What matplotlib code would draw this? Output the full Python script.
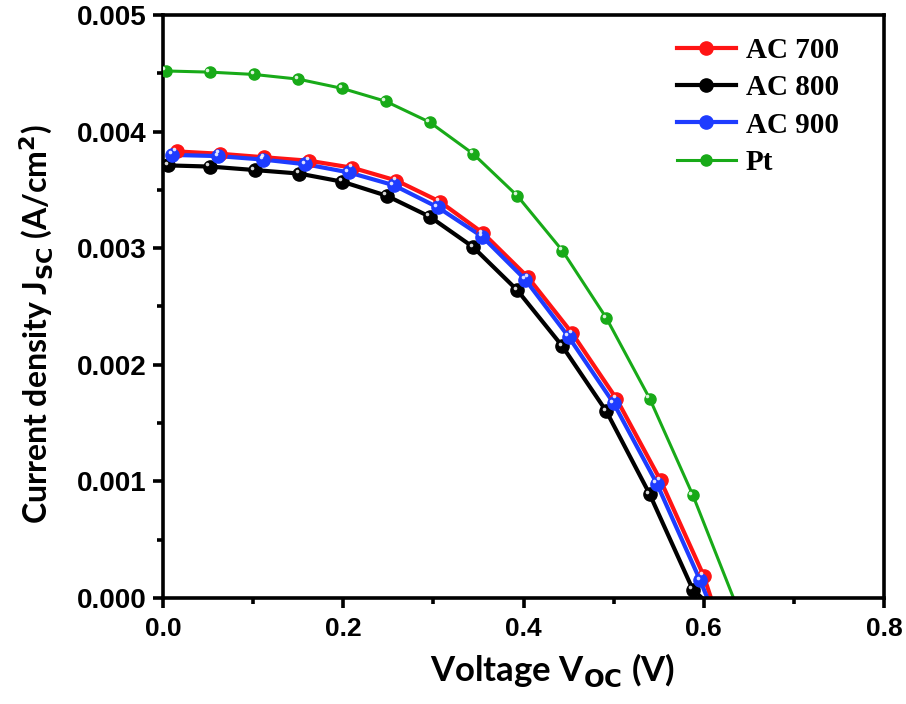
import numpy as np
import matplotlib
matplotlib.use("Agg")
import matplotlib.pyplot as plt
from matplotlib import transforms
from matplotlib.ticker import MultipleLocator, FormatStrFormatter

# J-V data (current density in mA/cm2, scaled below)
v_ac700 = [0.015, 0.063, 0.112, 0.162, 0.210, 0.259, 0.307, 0.355, 0.405, 0.454, 0.503, 0.552, 0.600]
j_ac700 = [3.83, 3.81, 3.78, 3.75, 3.69, 3.58, 3.40, 3.13, 2.75, 2.27, 1.71, 1.01, 0.19]
v_ac800 = [0.006, 0.052, 0.102, 0.151, 0.199, 0.248, 0.296, 0.344, 0.393, 0.443, 0.492, 0.540, 0.588]
j_ac800 = [3.71, 3.70, 3.67, 3.64, 3.57, 3.45, 3.27, 3.01, 2.64, 2.16, 1.60, 0.89, 0.07]
v_ac900 = [0.010, 0.061, 0.111, 0.158, 0.206, 0.256, 0.305, 0.354, 0.402, 0.450, 0.500, 0.548, 0.596]
j_ac900 = [3.80, 3.79, 3.76, 3.72, 3.65, 3.54, 3.35, 3.10, 2.73, 2.24, 1.67, 0.98, 0.15]
v_pt = [0.003, 0.052, 0.101, 0.150, 0.199, 0.247, 0.296, 0.344, 0.393, 0.443, 0.492, 0.540, 0.588]
j_pt = [4.52, 4.51, 4.49, 4.45, 4.37, 4.26, 4.08, 3.81, 3.45, 2.98, 2.40, 1.71, 0.88]
# open-circuit voltage where each curve reaches zero
voc = {"AC 700": 0.608, "AC 800": 0.598, "AC 900": 0.604, "Pt": 0.633}

labels = ["AC 700", "AC 800", "AC 900", "Pt"]
volts = [v_ac700, v_ac800, v_ac900, v_pt]
currents = [j_ac700, j_ac800, j_ac900, j_pt]
colors = ["#ff1414", "#000000", "#1e3cff", "#18aa18"]

plt.rcParams["font.weight"] = "bold"
plt.rcParams["axes.labelweight"] = "bold"
plt.rcParams["mathtext.default"] = "bf"

fig = plt.figure(figsize=(9.06, 7.04), dpi=100)
ax = fig.add_axes([0.18, 0.1506, 0.7957, 0.8281])

for lab, v, j, c in zip(labels, volts, currents, colors):
    j = np.array(j) * 1e-3
    big = lab != "Pt"
    lw = 3.0 if big else 2.2
    ms = 9.5 if big else 8.0
    # line runs on to the Voc intercept
    ax.plot(list(v) + [voc[lab]], list(j) + [0.0], color=c, lw=lw, zorder=2)
    ax.plot(v, j, ls="none", marker="o", ms=ms, color=c, mec=c, label=lab, zorder=3)
    # little highlight to mimic the glossy spheres
    shine = transforms.offset_copy(ax.transData, fig=fig, x=-1.8, y=1.8, units="points")
    ax.plot(v, j, ls="none", marker="o", ms=2.6, color="white", mec="none",
            alpha=0.85, transform=shine, zorder=4)

ax.set_xlim(0, 0.8)
ax.set_ylim(0, 0.005)
ax.xaxis.set_major_locator(MultipleLocator(0.2))
ax.xaxis.set_minor_locator(MultipleLocator(0.1))
ax.yaxis.set_major_locator(MultipleLocator(0.001))
ax.yaxis.set_minor_locator(MultipleLocator(0.0005))
ax.xaxis.set_major_formatter(FormatStrFormatter("%.1f"))
ax.yaxis.set_major_formatter(FormatStrFormatter("%.3f"))

for s in ax.spines.values():
    s.set_linewidth(2.6)
ax.tick_params(which="major", direction="out", length=7, width=2.6)
ax.tick_params(which="minor", direction="out", length=4.5, width=2.6)
ax.tick_params(top=False, right=False)
ax.tick_params(axis="y", labelsize=20, labelfontfamily="Liberation Sans", pad=5)
ax.tick_params(axis="x", labelsize=19, labelfontfamily="Liberation Sans", pad=7)

ax.set_xlabel(r"Voltage V$_{\mathbf{OC}}$ (V)", fontsize=25,
              family=["Lato", "DejaVu Sans"])
ax.set_ylabel(r"Current density J$_{\mathbf{SC}}$ (A/cm$^{\mathbf{2}}$)", fontsize=23,
              family=["Lato", "DejaVu Sans"])
ax.xaxis.set_label_coords(0.54, -0.092)
ax.yaxis.set_label_coords(-0.15, 0.47)

leg = ax.legend(loc="upper right", frameon=False, handlelength=2.0, handletextpad=0.35,
                labelspacing=0.35, bbox_to_anchor=(0.974, 1.007),
                prop={"family": ["Liberation Serif", "DejaVu Serif"], "weight": "bold", "size": 21})
for h, c, lab in zip(leg.legend_handles, colors, labels):
    h.set_linestyle("-")
    h.set_linewidth(3.0 if lab != "Pt" else 2.2)

fig.canvas.draw()
plt.setp(ax.get_xticklabels() + ax.get_yticklabels(), fontweight="bold")

plt.savefig("out.png", dpi=100)
